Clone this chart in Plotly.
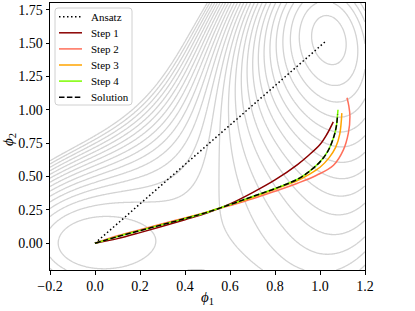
import numpy as np
import plotly.graph_objects as go

# ---- potential landscape parameters (background contours) ----
delta = 0.3
x_grid = np.linspace(-0.2, 1.2, 281)
y_grid = np.linspace(-0.2, 1.8, 401)
level_size = 0.0655
level_start = -0.003 - 12 * level_size
level_end = 1.0

# ---- paths ----
ansatz_x = [0.0, 1.03]
ansatz_y = [0.0, 1.52]

step1_x = [0.0, 0.1, 0.2, 0.3, 0.4, 0.5, 0.6, 0.7, 0.8, 0.9, 0.95, 1.0, 1.03, 1.059]
step1_y = [0.0, 0.035, 0.08, 0.128, 0.177, 0.228, 0.295, 0.38, 0.475, 0.59, 0.66, 0.74, 0.815, 0.91]

step2_x = [0.0, 0.1, 0.2, 0.3, 0.4, 0.5, 0.6, 0.7, 0.8, 0.9, 0.985, 1.06, 1.104, 1.126, 1.133, 1.128, 1.12]
step2_y = [0.0, 0.056, 0.102, 0.147, 0.19, 0.235, 0.283, 0.333, 0.39, 0.45, 0.51, 0.585, 0.7, 0.825, 0.95, 1.03, 1.09]

step3_x = [0.0, 0.1, 0.2, 0.3, 0.4, 0.5, 0.6, 0.7, 0.8, 0.9, 0.95, 1.0, 1.04, 1.07, 1.088, 1.097]
step3_y = [0.0, 0.052, 0.097, 0.142, 0.187, 0.235, 0.288, 0.343, 0.405, 0.47, 0.515, 0.57, 0.64, 0.72, 0.82, 0.975]

step4_x = [0.0, 0.1, 0.2, 0.3, 0.4, 0.5, 0.6, 0.7, 0.8, 0.9, 0.95, 1.0, 1.035, 1.06, 1.073, 1.078, 1.08]
step4_y = [0.0, 0.05, 0.095, 0.14, 0.185, 0.233, 0.29, 0.35, 0.41, 0.48, 0.535, 0.61, 0.69, 0.79, 0.88, 0.965, 1.0]

sol_x = [0.0, 0.1, 0.2, 0.3, 0.4, 0.5, 0.6, 0.7, 0.8, 0.9, 0.95, 1.0, 1.035, 1.06, 1.073, 1.078]
sol_y = [0.0, 0.05, 0.095, 0.14, 0.185, 0.233, 0.29, 0.35, 0.41, 0.48, 0.535, 0.61, 0.69, 0.79, 0.88, 0.965]

x_ticks = [-0.2, 0.0, 0.2, 0.4, 0.6, 0.8, 1.0, 1.2]
x_labels = ["\u22120.2", "0.0", "0.2", "0.4", "0.6", "0.8", "1.0", "1.2"]
y_ticks = [0.0, 0.25, 0.5, 0.75, 1.0, 1.25, 1.5, 1.75]
y_labels = ["0.00", "0.25", "0.50", "0.75", "1.00", "1.25", "1.50", "1.75"]

legend_names = ["Ansatz", "Step 1", "Step 2", "Step 3", "Step 4", "Solution"]
legend_colors = ["black", "#8b0000", "#ff6f5a", "#ffa500", "#7cfc00", "black"]
legend_dash = ["1.5px,2.5px", "solid", "solid", "solid", "solid", "5.5px,2.4px"]

X, Y = np.meshgrid(x_grid, y_grid)
V = (X**2 + Y**2) * (1.8 * (X - 1) ** 2 + 0.2 * (Y - 1) ** 2 - delta)
V = np.minimum(V, level_end)

font_family = "Liberation Serif, serif"

# plot area in pixels
W, H = 415, 311
L, R, T, B = 50, 50, 3, 41
PW, PH = W - L - R, H - T - B


def px(xp):
    return (xp - L) / PW


def py(yp):
    return 1 - (yp - T) / PH


fig = go.Figure()
fig.add_trace(go.Contour(
    x=x_grid, y=y_grid, z=V,
    autocontour=False,
    contours=dict(coloring="lines", start=level_start, end=level_end, size=level_size),
    colorscale=[[0, "#d3d3d3"], [1, "#d3d3d3"]],
    line=dict(width=1.3, smoothing=1),
    showscale=False, showlegend=False, hoverinfo="skip",
))

series = [(ansatz_x, ansatz_y, "linear"), (step1_x, step1_y, "spline"), (step2_x, step2_y, "spline"),
          (step3_x, step3_y, "spline"), (step4_x, step4_y, "spline"), (sol_x, sol_y, "spline")]
for (sx, sy, shp), name, col, dsh in zip(series, legend_names, legend_colors, legend_dash):
    fig.add_trace(go.Scatter(x=sx, y=sy, mode="lines", name=name, showlegend=False,
                             line=dict(color=col, width=1.5, dash=dsh, shape=shp)))

# ---- hand-built legend (matplotlib-like compact spacing) ----
shapes = []
annotations = []
bx0, bx1, by0, by1, r = 55, 132, 8, 105, 3
path = (f"M {px(bx0 + r)},{py(by0)} L {px(bx1 - r)},{py(by0)} Q {px(bx1)},{py(by0)} {px(bx1)},{py(by0 + r)} "
        f"L {px(bx1)},{py(by1 - r)} Q {px(bx1)},{py(by1)} {px(bx1 - r)},{py(by1)} "
        f"L {px(bx0 + r)},{py(by1)} Q {px(bx0)},{py(by1)} {px(bx0)},{py(by1 - r)} "
        f"L {px(bx0)},{py(by0 + r)} Q {px(bx0)},{py(by0)} {px(bx0 + r)},{py(by0)} Z")
shapes.append(dict(type="path", xref="paper", yref="paper", path=path,
                   fillcolor="rgba(255,255,255,0.85)", line=dict(color="#d0d0d0", width=1), layer="above"))
for i, (name, col, dsh) in enumerate(zip(legend_names, legend_colors, legend_dash)):
    yy = 16.7 + 16.1 * i
    shapes.append(dict(type="line", xref="paper", yref="paper", x0=px(59), x1=px(82), y0=py(yy), y1=py(yy),
                       line=dict(color=col, width=1.5, dash=dsh), layer="above"))
    annotations.append(dict(xref="paper", yref="paper", x=px(89), y=py(yy), text=name, showarrow=False,
                            xanchor="left", yanchor="middle", font=dict(family=font_family, size=11)))

# axis titles
annotations.append(dict(xref="paper", yref="paper", x=px(207), y=py(298), text="<i>\u03d5</i><sub>1</sub>",
                        showarrow=False, xanchor="center", yanchor="middle", font=dict(family=font_family, size=15)))
annotations.append(dict(xref="paper", yref="paper", x=px(9), y=py(140), text="<i>\u03d5</i><sub>2</sub>",
                        showarrow=False, xanchor="center", yanchor="middle", textangle=-90,
                        font=dict(family=font_family, size=15)))

fig.update_layout(
    width=W, height=H,
    margin=dict(l=L, r=R, t=T, b=B),
    paper_bgcolor="white", plot_bgcolor="white",
    font=dict(family=font_family, size=14, color="black"),
    showlegend=False,
    shapes=shapes, annotations=annotations,
    xaxis=dict(range=[-0.2, 1.2], tickvals=x_ticks, ticktext=x_labels,
               showgrid=False, zeroline=False, showline=True, linecolor="black", linewidth=1,
               mirror=True, ticks="outside", ticklen=3.5, tickcolor="black"),
    yaxis=dict(range=[-0.2, 1.8], tickvals=y_ticks, ticktext=y_labels,
               showgrid=False, zeroline=False, showline=True, linecolor="black", linewidth=1,
               mirror=True, ticks="outside", ticklen=3.5, tickcolor="black"),
)

fig.write_html("out.html", config={"displayModeBar": False},
               post_script="document.body.style.margin='0px';")
